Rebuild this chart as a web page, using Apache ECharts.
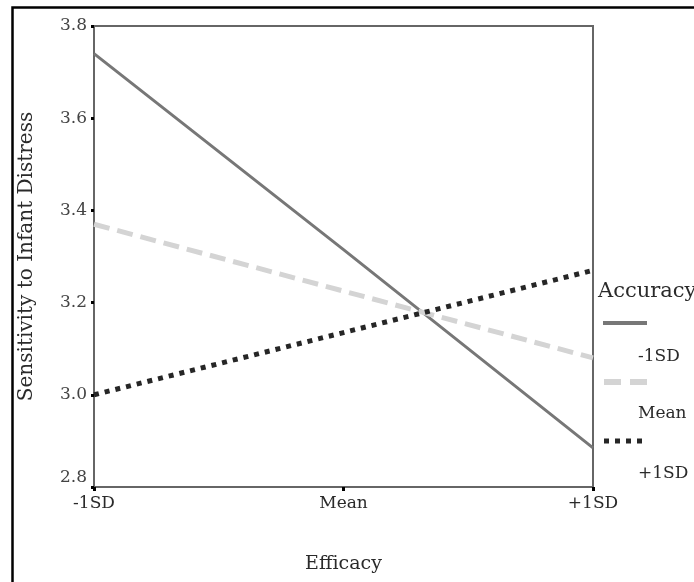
<!DOCTYPE html>
<html><head><meta charset="utf-8">
<script src="https://cdn.jsdelivr.net/npm/echarts@6/dist/echarts.min.js"></script>
<style>html,body{margin:0;padding:0;background:#fff}#c{width:694px;height:582px}</style>
</head><body><div id="c"></div>
<script>
const categories = ['-1SD', 'Mean', '+1SD'];
const yTicks = [2.8, 3.0, 3.2, 3.4, 3.6, 3.8];
const seriesNames = ['-1SD', 'Mean', '+1SD'];
const accLow = [3.74, 3.315, 2.885];
const accMean = [3.37, 3.225, 3.08];
const accHigh = [3.00, 3.135, 3.27];

const FONT = '"DejaVu Serif", "Liberation Serif", serif';
const colors = ['#777777', '#d4d4d4', '#262626'];
const TXT = '#2a2a2a';
const chart = echarts.init(document.getElementById('c'));
chart.setOption({
  animation: false,
  backgroundColor: '#fff',
  grid: { left: 94, top: 26, width: 499, height: 461, show: true, borderColor: '#666', borderWidth: 2 },
  xAxis: {
    type: 'category', data: categories, boundaryGap: false,
    name: 'Efficacy', nameLocation: 'middle', nameGap: 68,
    nameTextStyle: { fontFamily: FONT, fontSize: 19, color: TXT },
    axisLine: { lineStyle: { color: '#666', width: 2 } },
    axisTick: { alignWithLabel: true, length: 4, lineStyle: { color: '#000', width: 3 } },
    axisLabel: { fontFamily: FONT, fontSize: 17, color: TXT, margin: 8 },
    splitLine: { show: false }
  },
  yAxis: {
    type: 'value', min: 2.8, max: 3.8, interval: 0.2,
    name: 'Sensitivity to Infant Distress', nameLocation: 'middle', nameGap: 57,
    nameTextStyle: { fontFamily: FONT, fontSize: 20, color: TXT },
    axisLine: { show: true, lineStyle: { color: '#666', width: 2 } },
    axisTick: { show: true, length: 3, lineStyle: { color: '#000', width: 3 } },
    axisLabel: {
      fontFamily: FONT, fontSize: 17, color: '#444', margin: 7,
      formatter: v => Math.abs(v - 2.8) < 1e-6 ? '{up|2.8}' : v.toFixed(1),
      rich: { up: { fontFamily: FONT, fontSize: 17, color: '#444', padding: [0, 0, 18, 0] } }
    },
    splitLine: { show: false }
  },
  graphic: [
    { type: 'rect', shape: { x: 12.5, y: 7.5, width: 720, height: 620 }, style: { fill: 'none', stroke: '#000', lineWidth: 2.5 }, silent: true },
    { type: 'text', left: 598, top: 281, style: { text: 'Accuracy', font: '21px ' + FONT, fill: TXT } },
    { type: 'line', shape: { x1: 603, y1: 323, x2: 647, y2: 323 }, style: { stroke: colors[0], lineWidth: 4 } },
    { type: 'text', left: 638, top: 348, style: { text: seriesNames[0], font: '17px ' + FONT, fill: TXT } },
    { type: 'line', shape: { x1: 604, y1: 382, x2: 647, y2: 382 }, style: { stroke: colors[1], lineWidth: 6, lineDash: [17, 9] } },
    { type: 'text', left: 638, top: 405, style: { text: seriesNames[1], font: '17px ' + FONT, fill: TXT } },
    { type: 'line', shape: { x1: 604, y1: 441, x2: 647, y2: 441 }, style: { stroke: colors[2], lineWidth: 5, lineDash: [5, 6] } },
    { type: 'text', left: 638, top: 465, style: { text: seriesNames[2], font: '17px ' + FONT, fill: TXT } }
  ],
  series: [
    { name: seriesNames[0], type: 'line', data: accLow, symbol: 'none',
      lineStyle: { color: colors[0], width: 3, type: 'solid' } },
    { name: seriesNames[1], type: 'line', data: accMean, symbol: 'none',
      lineStyle: { color: colors[1], width: 5, type: [16, 8] } },
    { name: seriesNames[2], type: 'line', data: accHigh, symbol: 'none',
      lineStyle: { color: colors[2], width: 5, type: [5, 6] } }
  ]
});
</script></body></html>
